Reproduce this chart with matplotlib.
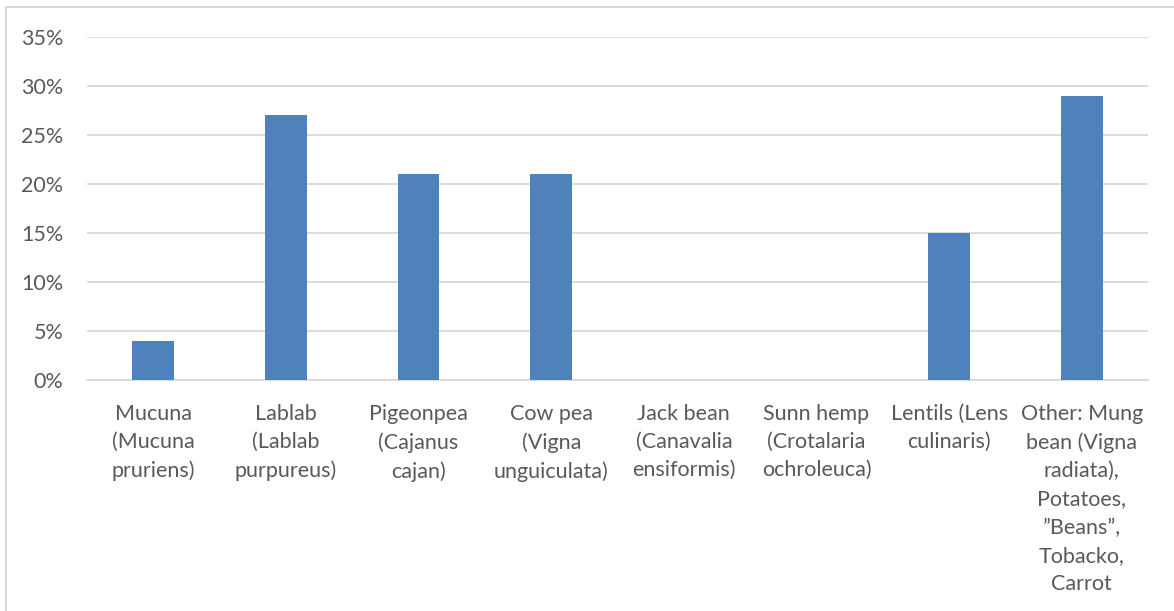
import matplotlib
matplotlib.use('Agg')
import matplotlib.pyplot as plt
from matplotlib.lines import Line2D
from matplotlib.ticker import MultipleLocator, FuncFormatter

crops = [
    'Mucuna\n(Mucuna\npruriens)',
    'Lablab\n(Lablab\npurpureus)',
    'Pigeonpea\n(Cajanus\ncajan)',
    'Cow pea\n(Vigna\nunguiculata)',
    'Jack bean\n(Canavalia\nensiformis)',
    'Sunn hemp\n(Crotalaria\nochroleuca)',
    'Lentils (Lens\nculinaris)',
    'Other: Mung\nbean (Vigna\nradiata),\nPotatoes,\n\u201dBeans\u201d,\nTobacko,\nCarrot',
]
shares = [4, 27, 21, 21, 0, 0, 15, 29]

plt.rcParams['font.family'] = ['Lato', 'DejaVu Sans']
text_color = '#595959'
grid_color = '#d9d9d9'

fig = plt.figure(figsize=(11.74, 6.11), dpi=100)
ax = fig.add_axes([0.0741, 0.378, 0.9038, 0.5614])

x = range(len(crops))
ax.bar(x, shares, width=0.314, color='#4f81bd', zorder=3)

ax.set_xlim(-0.5, len(crops) - 0.5)
ax.set_ylim(0, 35)
ax.yaxis.set_major_locator(MultipleLocator(5))
ax.yaxis.set_major_formatter(FuncFormatter(lambda v, p: f'{v:.0f}%'))
ax.grid(axis='y', color=grid_color, linewidth=1.3, zorder=0)
ax.set_axisbelow(True)

ax.set_xticks(list(x))
ax.set_xticklabels(crops)
ax.tick_params(axis='both', length=0, labelsize=15.5, labelcolor=text_color)
ax.tick_params(axis='x', pad=17)
ax.tick_params(axis='y', pad=17)
for lbl in ax.get_xticklabels():
    lbl.set_multialignment('center')
    lbl.set_linespacing(1.52)

for side in ['top', 'right', 'left']:
    ax.spines[side].set_visible(False)
ax.spines['bottom'].set_color(grid_color)
ax.spines['bottom'].set_linewidth(1.3)

# chart area border (left and top edges)
fig.add_artist(Line2D([0.0051, 0.0051], [0, 0.9886], color=grid_color, lw=1.5, transform=fig.transFigure))
fig.add_artist(Line2D([0.0051, 1], [0.9886, 0.9886], color=grid_color, lw=1.5, transform=fig.transFigure))

fig.savefig('out.png', dpi=100)
